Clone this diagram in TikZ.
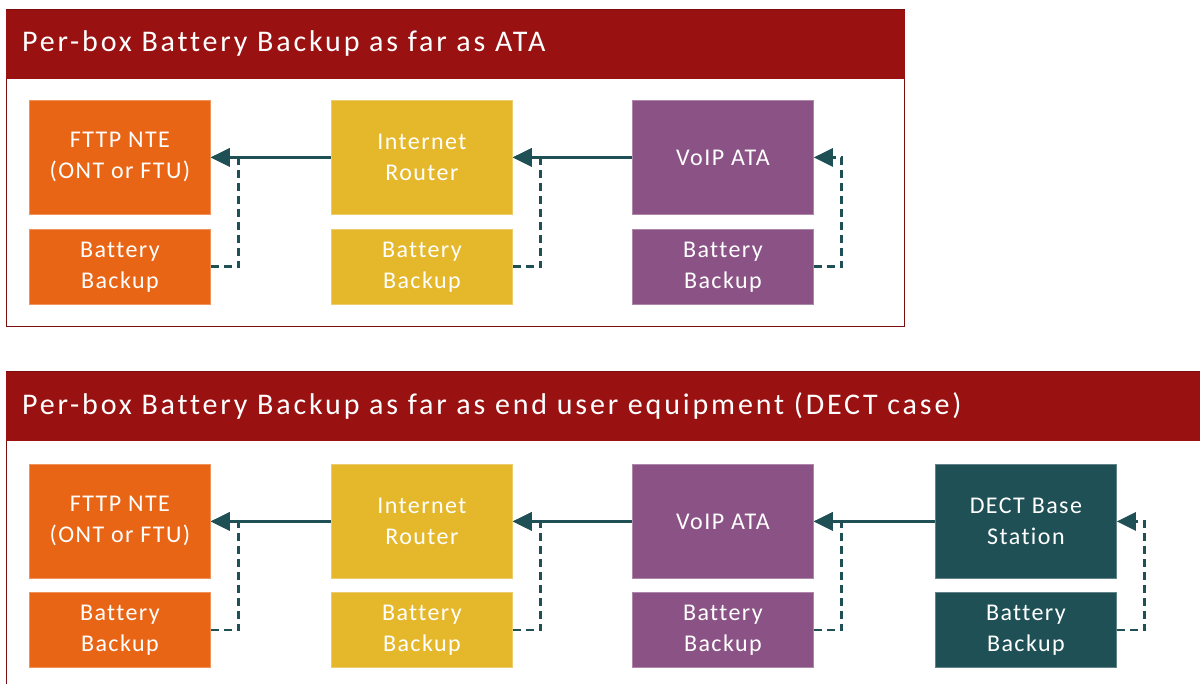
\documentclass[tikz,border=0pt]{standalone}
\usepackage{fontspec}
\setmainfont{Carlito}[Ligatures=NoCommon]
\usetikzlibrary{arrows.meta}
\definecolor{hdrred}{HTML}{9A1111}
\definecolor{ntecol}{HTML}{E96516}
\definecolor{rtrcol}{HTML}{E5B82B}
\definecolor{atacol}{HTML}{8B5285}
\definecolor{dectcol}{HTML}{1F5055}
\begin{document}
\begin{tikzpicture}[x=1pt,y=-1pt,
        unit/.style={draw=#1!70!white,fill=#1,line width=0.8pt,text=white,
            minimum width=181pt,minimum height=114pt,anchor=north west,
            align=center,inner sep=0pt,
            font=\fontsize{24}{31}\selectfont\addfontfeatures{LetterSpace=6}},
        batt/.style={unit=#1,minimum height=75pt},
        hdr/.style={fill=hdrred,draw=hdrred,line width=0.8pt},
        panel/.style={draw=hdrred!80!black,line width=1pt},
        hdrtext/.style={text=white,anchor=west,inner sep=0pt,
            font=\fontsize{30}{34}\selectfont\addfontfeatures{LetterSpace=9.5}},
        link/.style={draw=dectcol,line width=2.5pt,-{Triangle[length=19pt,width=18pt]}},
        feed/.style={link,line width=2.8pt,dash pattern=on 8pt off 5pt}]
\useasboundingbox (0,0) rectangle (1200,684);
% panel 1
\draw[panel] (6,10) rectangle (904,327);
\fill[hdr] (6,10) rectangle (904,78);
\node[hdrtext] (title1) at (22,44) {Per-box Battery Backup as far as ATA};
\node[unit=ntecol] (nte1) at (29,100) {FTTP NTE\\(ONT or FTU)};
\node[batt=ntecol] (bnte1) at (29,229) {Battery\\Backup};
\node[unit=rtrcol] (rtr1) at (331,100) {Internet\\Router};
\node[batt=rtrcol] (brtr1) at (331,229) {Battery\\Backup};
\node[unit=atacol] (ata1) at (632,100) {VoIP ATA};
\node[batt=atacol] (bata1) at (632,229) {Battery\\Backup};
\draw[link] (rtr1.west) -- (nte1.east);
\draw[link] (ata1.west) -- (rtr1.east);
\draw[feed] (bnte1.east) -- ++(28,0) |- (nte1.east);
\draw[feed] (brtr1.east) -- ++(28,0) |- (rtr1.east);
\draw[feed] (bata1.east) -- ++(28,0) |- (ata1.east);
% panel 2
\draw[panel] (6,372) rectangle (1210,700);
\fill[hdr] (6,372) rectangle (1210,440);
\node[hdrtext] (title2) at (22,406) {Per-box Battery Backup as far as end user equipment (DECT case)};
\node[unit=ntecol] (nte2) at (29,464) {FTTP NTE\\(ONT or FTU)};
\node[batt=ntecol] (bnte2) at (29,592) {Battery\\Backup};
\node[unit=rtrcol] (rtr2) at (331,464) {Internet\\Router};
\node[batt=rtrcol] (brtr2) at (331,592) {Battery\\Backup};
\node[unit=atacol] (ata2) at (632,464) {VoIP ATA};
\node[batt=atacol] (bata2) at (632,592) {Battery\\Backup};
\node[unit=dectcol] (dect2) at (935,464) {DECT Base\\Station};
\node[batt=dectcol] (bdect2) at (935,592) {Battery\\Backup};
\draw[link] (rtr2.west) -- (nte2.east);
\draw[link] (ata2.west) -- (rtr2.east);
\draw[link] (dect2.west) -- (ata2.east);
\draw[feed] (bnte2.east) -- ++(28,0) |- (nte2.east);
\draw[feed] (brtr2.east) -- ++(28,0) |- (rtr2.east);
\draw[feed] (bata2.east) -- ++(28,0) |- (ata2.east);
\draw[feed] (bdect2.east) -- ++(28,0) |- (dect2.east);
\end{tikzpicture}
\end{document}
